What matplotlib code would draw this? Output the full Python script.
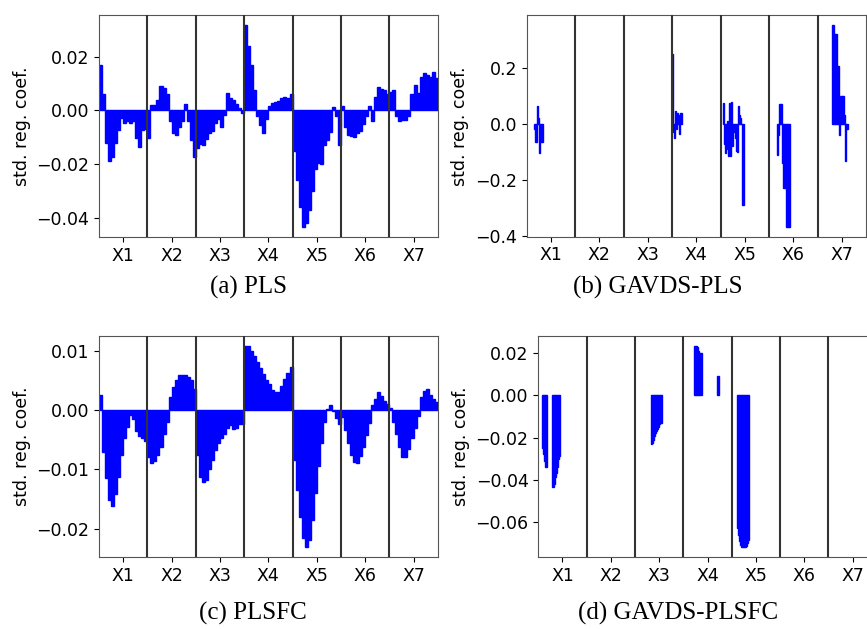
import matplotlib
matplotlib.use("Agg")
import matplotlib.pyplot as plt
import numpy as np

# ---------------- data ----------------
labels = ["X1", "X2", "X3", "X4", "X5", "X6", "X7"]
PER_DENSE = 16   # coefficients drawn per variable in dense panels
PER_SPARSE = 48  # lag grid per variable in the GAVDS panels

# (a) PLS, 16 coefficients per variable
pls_X1 = [0.017, 0.006, -0.012, -0.0187, -0.0175, -0.0122, -0.0072, -0.0029,
          -0.0047, -0.0038, -0.0047, -0.004, -0.0104, -0.0135, -0.0072, -0.007]
pls_X2 = [-0.0103, 0.002, 0.0022, 0.004, 0.009, 0.0085, 0.006, -0.004,
          -0.0085, -0.0091, -0.006, -0.004, 0.0025, -0.004, -0.011, -0.0172]
pls_X3 = [-0.014, -0.0125, -0.0129, -0.0105, -0.0085, -0.0075, -0.0045, -0.003,
          -0.0062, -0.0016, 0.0065, 0.0047, 0.004, 0.0025, 0.0008, -0.001]
pls_X4 = [0.0319, 0.024, 0.017, 0.0075, -0.002, -0.0055, -0.0085, -0.003,
          0.0018, 0.0028, 0.003, 0.0035, 0.0045, 0.005, 0.0045, 0.006]
pls_X5 = [-0.015, -0.026, -0.036, -0.0435, -0.042, -0.037, -0.030, -0.022,
          -0.0195, -0.020, -0.013, -0.011, -0.008, 0.0012, -0.002, -0.0128]
pls_X6 = [0.0015, -0.006, -0.009, -0.0095, -0.0098, -0.0085, -0.0075, -0.005,
          -0.002, 0.0018, -0.004, 0.005, 0.0088, 0.008, 0.0078, 0.006]
pls_X7 = [0.007, 0.0075, -0.002, -0.004, -0.0035, -0.0035, -0.002, 0.006,
          0.0095, 0.0065, 0.0125, 0.014, 0.0133, 0.0125, 0.0145, 0.012]

# (c) PLSFC, 16 coefficients per variable
plsfc_X1 = [0.0025, -0.007, -0.0115, -0.0152, -0.0161, -0.0142, -0.0112, -0.0075,
            -0.0048, -0.0028, -0.0008, -0.0015, -0.0036, -0.0044, -0.0048, -0.0052]
plsfc_X2 = [-0.0080, -0.0089, -0.0086, -0.0075, -0.0062, -0.0040, -0.0020, 0.0022,
            0.0038, 0.0050, 0.0058, 0.0059, 0.0058, 0.0055, 0.0050, 0.0035]
plsfc_X3 = [-0.0075, -0.0112, -0.0121, -0.0118, -0.0100, -0.0085, -0.0068, -0.0055,
            -0.0047, -0.0040, -0.0030, -0.0025, -0.0032, -0.0030, -0.0024, -0.0024]
plsfc_X4 = [0.0108, 0.0108, 0.0100, 0.0090, 0.0080, 0.0070, 0.0060, 0.0050,
            0.0043, 0.0034, 0.0030, 0.0031, 0.0040, 0.0052, 0.0062, 0.0072]
plsfc_X5 = [-0.0085, -0.0135, -0.0180, -0.0215, -0.0231, -0.0218, -0.0185, -0.0140,
            -0.0095, -0.0055, -0.0020, 0.0002, 0.0009, -0.0002, -0.0013, -0.0024]
plsfc_X6 = [-0.0012, -0.0033, -0.0055, -0.0075, -0.0087, -0.0089, -0.0078, -0.0062,
            -0.0042, -0.0022, 0.0008, 0.0018, 0.0030, 0.0024, 0.0015, 0.0010]
plsfc_X7 = [0.0004, -0.0020, -0.0040, -0.0062, -0.0080, -0.0080, -0.0065, -0.0048,
            -0.0030, -0.0010, 0.0022, 0.0032, 0.0036, 0.0026, 0.0019, 0.0013]

# (b) GAVDS-PLS: selected lags (variable index, first lag, coefficients)
gpls_var = [0, 3, 4, 5, 6]
gpls_start = [7, 0, 2, 8, 14]
gpls_vals = [
    [-0.02, -0.065, -0.065, 0.063, 0.02, -0.105, -0.065, -0.065, -0.065],
    [0.248, -0.03, -0.05, 0.045, -0.02, 0.04, 0.03, -0.035, 0.04, 0.04],
    [0.073, -0.07, -0.105, -0.09, 0.01, -0.115, 0.075, -0.115, 0.077, -0.08,
     -0.03, -0.02, -0.05, -0.098, -0.1, 0.063, 0.033, 0.02, 0.0, -0.288, -0.288],
    [-0.112, -0.04, 0.07, 0.07, 0.07, -0.14, -0.228, -0.228, -0.228,
     -0.366, -0.366, -0.366, -0.366],
    [0.352, 0.352, 0.32, 0.32, 0.32, 0.207, 0.207, -0.038, 0.1, 0.1, 0.1, 0.1,
     0.033, -0.133, -0.02, -0.02],
]

# (d) GAVDS-PLSFC
gplsfc_var = [0, 0, 2, 3, 3, 4]
gplsfc_start = [4, 14, 16, 11, 33, 5]
gplsfc_vals = [
    [-0.025, -0.028, -0.031, -0.034, -0.034],
    [-0.0435, -0.0435, -0.042, -0.039, -0.037, -0.034, -0.030, -0.029],
    [-0.0229, -0.0225, -0.021, -0.0195, -0.018, -0.0168, -0.016, -0.0148,
     -0.0138, -0.0132, -0.013],
    [0.0235, 0.0235, 0.0235, 0.023, 0.021, 0.020, 0.020],
    [0.0094, 0.0094],
    [-0.063, -0.0665, -0.069, -0.0710, -0.0720, -0.0722, -0.0722, -0.0722,
     -0.0720, -0.0715, -0.070, -0.0688],
]

captions = ["(a) PLS", "(b) GAVDS-PLS", "(c) PLSFC", "(d) GAVDS-PLSFC"]

# ---------------- drawing ----------------
W, H = 867, 629
fig = plt.figure(figsize=(W / 100, H / 100), dpi=100)
plt.rcParams["font.size"] = 12.5

BLUE = "#0000ff"


def rect(l, t, r, b):
    return [l / W, 1 - b / H, (r - l) / W, (b - t) / H]


def positions(var, start, n, per):
    return var - 0.5 + (start + np.arange(n) + 0.5) / per


def style(ax):
    ax.set_xlim(-0.5, len(labels) - 0.5)
    ax.set_xticks(range(len(labels)))
    ax.set_xticklabels(labels)
    for j in range(len(labels) - 1):
        ax.axvline(j + 0.5, color="#333333", lw=1.5, zorder=3)
    ax.set_ylabel("std. reg. coef.")
    for s in ax.spines.values():
        s.set_color("#555555")
    ax.tick_params(labelsize=12.5)
    ax.yaxis.label.set_size(12.5)


def dense(ax, series):
    for j, vals in enumerate(series):
        x = positions(j, 0, len(vals), PER_DENSE)
        ax.bar(x, vals, width=1 / PER_DENSE, color=BLUE, edgecolor=BLUE, linewidth=1.0)
    style(ax)


def sparse(ax, var, start, vals):
    for v, s, vv in zip(var, start, vals):
        x = positions(v, s, len(vv), PER_SPARSE)
        ax.bar(x, vv, width=1 / PER_SPARSE, color=BLUE, edgecolor=BLUE, linewidth=1.0)
    style(ax)


ax_a = fig.add_axes(rect(99, 15, 437.7, 237))
dense(ax_a, [pls_X1, pls_X2, pls_X3, pls_X4, pls_X5, pls_X6, pls_X7])

ax_b = fig.add_axes(rect(526.7, 15, 866, 236.7))
sparse(ax_b, gpls_var, gpls_start, gpls_vals)

ax_c = fig.add_axes(rect(99, 335.7, 437.7, 557.3))
dense(ax_c, [plsfc_X1, plsfc_X2, plsfc_X3, plsfc_X4, plsfc_X5, plsfc_X6, plsfc_X7])

ax_d = fig.add_axes(rect(538.3, 336, 876.8, 557.3))
sparse(ax_d, gplsfc_var, gplsfc_start, gplsfc_vals)

cap_pos = [(248.7, 287), (657.5, 287.5), (252.5, 613), (678, 613)]
for (cx, cy), txt in zip(cap_pos, captions):
    fig.text(cx / W, 1 - cy / H, txt, ha="center", va="center",
             family="Liberation Serif", fontsize=18)

fig.savefig("out.png", dpi=100)
